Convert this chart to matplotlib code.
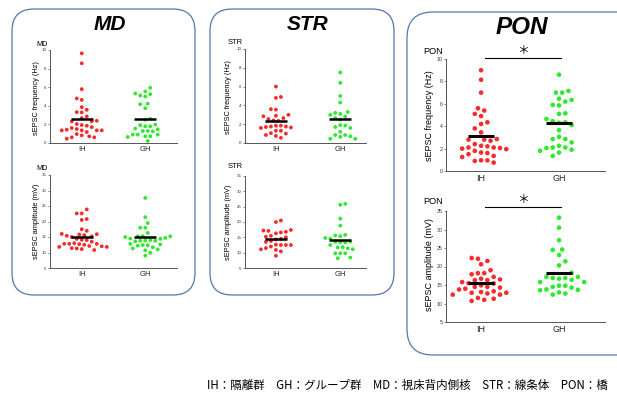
import numpy as np
import matplotlib
matplotlib.use('Agg')
import matplotlib.pyplot as plt
from matplotlib.patches import FancyBboxPatch

# ---------------- data ----------------
groups = ['IH', 'GH']
freq_label = 'sEPSC frequency (Hz)'
amp_label = 'sEPSC amplitude (mV)'
freq_ticks = [0, 2, 4, 6, 8, 10]
amp_ticks = [5, 10, 15, 20, 25, 30, 35]
footer = 'IH：隔離群　GH：グループ群　MD：視床背内側核　STR：線条体　PON：橋'

md_freq_ih = [9.64, 8.57, 5.79, 4.79, 4.64, 3.86, 3.57, 3.32, 3.29, 2.86, 2.68, 2.39,
              2.32, 2.32, 2.04, 1.93, 1.86, 1.71, 1.61, 1.5, 1.43, 1.36, 1.36, 1.36,
              1.36, 1.18, 0.96, 0.82, 0.71, 0.61, 0.61, 0.46]
md_freq_gh = [5.94, 5.54, 5.32, 5.25, 5.11, 5.0, 4.24, 4.17, 3.74, 2.6, 2.5, 1.98,
              1.91, 1.8, 1.8, 1.55, 1.47, 1.29, 1.29, 1.26, 0.9, 0.9, 0.9, 0.72,
              0.72, 0.65, 0.22]
md_amp_ih = [23.9, 22.6, 22.6, 20.8, 20.5, 17.5, 17.0, 16.0, 15.9, 15.8, 15.6, 15.4,
             15.2, 15.0, 14.4, 14.1, 14.0, 13.5, 13.0, 12.8, 12.8, 12.8, 12.7, 12.5,
             12.1, 12.0, 11.8, 11.8, 11.4, 11.3, 11.1, 10.8]
md_amp_gh = [27.6, 21.4, 19.5, 18.0, 18.0, 16.3, 15.3, 15.2, 15.2, 15.0, 14.7, 14.5,
             14.4, 14.0, 13.9, 13.8, 13.8, 13.6, 12.8, 12.6, 12.4, 12.3, 12.2, 11.7,
             11.3, 11.0, 10.7, 9.9, 9.0]
str_freq_ih = [6.0, 4.9, 4.8, 3.6, 3.55, 3.0, 2.9, 2.85, 2.65, 2.55, 2.4, 2.35, 1.85,
               1.85, 1.75, 1.75, 1.7, 1.65, 1.6, 1.3, 1.3, 1.05, 1.0, 0.85, 0.75, 0.55]
str_freq_gh = [7.5, 6.4, 5.0, 4.3, 3.3, 3.2, 3.1, 3.0, 2.8, 2.65, 2.5, 1.9, 1.85, 1.7,
               1.6, 1.2, 0.85, 0.85, 0.7, 0.65, 0.45, 0.45]
str_amp_ih = [20.5, 20.0, 17.4, 17.2, 17.1, 16.8, 16.6, 16.3, 15.5, 15.2, 15.0, 14.5,
              14.3, 13.8, 13.5, 12.6, 12.5, 12.5, 12.5, 12.0, 11.5, 11.1, 10.9, 10.4, 9.0]
str_amp_gh = [25.9, 25.6, 21.1, 18.8, 15.8, 15.6, 15.4, 14.8, 14.6, 13.6, 13.5, 13.4,
              13.3, 12.5, 11.8, 11.7, 11.4, 11.1, 9.8, 9.8, 9.8, 8.4, 8.2]
pon_freq_ih = [9.0, 8.15, 7.0, 5.6, 5.4, 5.1, 4.9, 4.35, 4.2, 3.8, 3.45, 2.85, 2.8, 2.8,
               2.7, 2.4, 2.25, 2.2, 2.1, 2.1, 2.05, 2.0, 1.95, 1.8, 1.65, 1.6, 1.5, 1.35,
               1.25, 0.95, 0.95, 0.9, 0.75]
pon_freq_gh = [8.6, 7.15, 7.0, 7.0, 6.45, 6.35, 6.2, 5.9, 5.85, 5.15, 5.1, 4.65, 4.45,
               4.35, 4.3, 4.1, 3.65, 3.05, 2.85, 2.85, 2.55, 2.25, 2.1, 2.1, 2.05, 1.9,
               1.8, 1.65, 1.35]
pon_amp_ih = [22.3, 22.1, 21.5, 20.6, 19.0, 18.2, 18.2, 17.9, 17.2, 16.7, 16.5, 16.3,
              16.3, 15.8, 15.5, 15.4, 14.9, 14.5, 14.5, 14.3, 14.0, 13.8, 13.3, 13.1,
              12.9, 12.9, 12.7, 12.4, 12.4, 11.5, 11.3, 11.0, 10.7]
pon_amp_gh = [33.2, 30.5, 27.1, 24.6, 24.5, 23.1, 21.4, 20.3, 18.3, 17.2, 17.2, 16.9,
              16.9, 16.7, 16.4, 15.8, 15.8, 14.8, 14.8, 14.5, 14.3, 13.8, 13.7, 13.6,
              13.0, 12.7, 12.4]

# mean bars
md_freq_mean = [2.57, 2.55]
md_amp_mean = [15.05, 14.85]
str_freq_mean = [2.3, 2.57]
str_amp_mean = [14.4, 14.2]
pon_freq_mean = [3.16, 4.27]
pon_amp_mean = [15.45, 18.2]

# ---------------- figure ----------------
W, H = 617, 395
fig = plt.figure(figsize=(W / 100, H / 100), dpi=100)
fig.patch.set_facecolor('white')

bg = fig.add_axes([0, 0, 1, 1])
bg.set_xlim(0, W)
bg.set_ylim(H, 0)
bg.axis('off')
bg.set_zorder(0)

box_color = '#5577b0'
for (x0, y0, x1, y1, r) in [(12, 9, 195, 295, 22), (210, 9, 394, 295, 22), (407, 12, 660, 355, 26)]:
    bg.add_patch(FancyBboxPatch((x0, y0), x1 - x0, y1 - y0,
                                boxstyle=f'round,pad=0,rounding_size={r}',
                                facecolor='white', edgecolor=box_color, lw=0.9))

SANS = ['Liberation Sans', 'DejaVu Sans']
CJK = ['Noto Sans CJK JP', 'DejaVu Sans']

red = '#f42c2c'
green = '#30e830'


def swarm_offsets(ax, center, vals, d, xppu):
    """Non-overlapping scatter; points nearest the median are placed first."""
    pts = ax.transData.transform(np.column_stack([np.full(len(vals), center), vals]))
    ys = pts[:, 1]
    med = np.median(ys)
    order = np.argsort(np.abs(ys - med), kind='stable')
    placed = []
    offs = np.zeros(len(vals))
    step = d * 0.5
    flip = 1
    for i in order:
        y = ys[i]
        chosen = None
        for k in range(0, 120):
            cands = [0.0] if k == 0 else [flip * k * step, -flip * k * step]
            for c in cands:
                if all((c - px) ** 2 + (y - py) ** 2 >= d * d for px, py in placed):
                    chosen = c
                    break
            if chosen is not None:
                break
        if chosen != 0:
            flip = -flip
        placed.append((chosen, y))
        offs[i] = chosen / xppu
    return offs


def panel(rect_px, xlim, ylim, ticks, ih, gh, means, ms, d, barlw, tick_fs, xt_fs):
    x0, y0, x1, y1 = rect_px
    ax = fig.add_axes([x0 / W, 1 - y1 / H, (x1 - x0) / W, (y1 - y0) / H])
    ax.set_zorder(2)
    ax.patch.set_visible(False)
    ax.set_xlim(*xlim)
    ax.set_ylim(*ylim)
    for s in ['top', 'right']:
        ax.spines[s].set_visible(False)
    for s in ['left', 'bottom']:
        ax.spines[s].set_color('#555555')
        ax.spines[s].set_linewidth(0.7)
    ax.set_yticks(ticks)
    ax.set_yticklabels([str(t) for t in ticks])
    ax.set_xticks([1, 2])
    ax.set_xticklabels(groups)
    ax.tick_params(axis='y', length=1.5, width=0.5, pad=1, labelsize=tick_fs,
                   colors='#555555', labelcolor='#333333')
    ax.tick_params(axis='x', length=0, pad=2, labelsize=xt_fs, labelcolor='#222222')
    for lab in ax.get_xticklabels() + ax.get_yticklabels():
        lab.set_fontfamily(SANS)
    xppu = (x1 - x0) / (xlim[1] - xlim[0])
    for c, vals, col in [(1, ih, red), (2, gh, green)]:
        offs = swarm_offsets(ax, c, vals, d, xppu)
        ax.scatter(c + offs, vals, s=ms, color=col, edgecolors='none', zorder=3,
                   clip_on=False)
    for c, m in zip([1, 2], means):
        ax.hlines(m, c - 0.17, c + 0.17, color='black', lw=barlw, zorder=4)
    return ax


# MD
panel((50, 50, 177, 143), (0.5, 2.5), (0, 10), freq_ticks, md_freq_ih, md_freq_gh,
      md_freq_mean, 7.5, 5.0, 1.8, 3.2, 5.5)
panel((50, 175, 177, 268), (0.5, 2.5), (5, 35), amp_ticks, md_amp_ih, md_amp_gh,
      md_amp_mean, 7.5, 5.0, 1.8, 3.2, 5.5)
# STR
panel((245, 49, 366, 143), (0.52, 2.4), (0, 10), freq_ticks, str_freq_ih, str_freq_gh,
      str_freq_mean, 7.5, 5.0, 1.8, 3.2, 5.5)
panel((245, 176, 366, 268), (0.52, 2.4), (5, 35), amp_ticks, str_amp_ih, str_amp_gh,
      str_amp_mean, 7.5, 5.0, 1.8, 3.2, 5.5)
# PON
axp1 = panel((446, 59, 605, 171), (0.55, 2.59), (0, 10), freq_ticks, pon_freq_ih,
             pon_freq_gh, pon_freq_mean, 11, 6.3, 2.2, 3.8, 6.5)
axp2 = panel((446, 211, 605, 322), (0.55, 2.59), (5, 35), amp_ticks, pon_amp_ih,
             pon_amp_gh, pon_amp_mean, 11, 6.3, 2.2, 3.8, 6.5)

# significance bars (PON)
for ax, ybar, ystar in [(axp1, 10.1, 10.75), (axp2, 36.1, 38.0)]:
    ax.plot([1.05, 2.02], [ybar, ybar], color='black', lw=0.8, clip_on=False, zorder=4)
    ax.text(1.535, ystar, '＊', ha='center', va='center', fontsize=8.5,
            family=CJK, clip_on=False)

# titles
for x, y, t, fs in [(110, 24, 'MD', 15), (308, 24, 'STR', 15), (522, 27, 'PON', 17.5)]:
    bg.text(x, y, t, ha='center', va='center', fontsize=fs, fontweight='bold',
            fontstyle='italic', family=SANS)

# panel labels
for x, y, t, fs in [(36, 44, 'MD', 5.2), (36, 168, 'MD', 5.2),
                    (228, 42, 'STR', 5.4), (228, 167, 'STR', 5.4),
                    (423, 51, 'PON', 6.6), (423, 202, 'PON', 6.6)]:
    bg.text(x, y, t, ha='left', va='center', fontsize=fs, family=SANS)

# y labels
for x, y, t, fs in [(37, 98, freq_label, 5.3), (37, 221, amp_label, 5.3),
                    (229, 97, freq_label, 5.3), (229, 222, amp_label, 5.3),
                    (429, 116, freq_label, 6.5), (430, 265, amp_label, 6.5)]:
    bg.text(x, y, t, ha='center', va='center', rotation=90, fontsize=fs, family=SANS)

# footer
bg.text(207, 385, footer, ha='left', va='center', fontsize=8.3, family=CJK)

fig.savefig('out.png', dpi=100)
